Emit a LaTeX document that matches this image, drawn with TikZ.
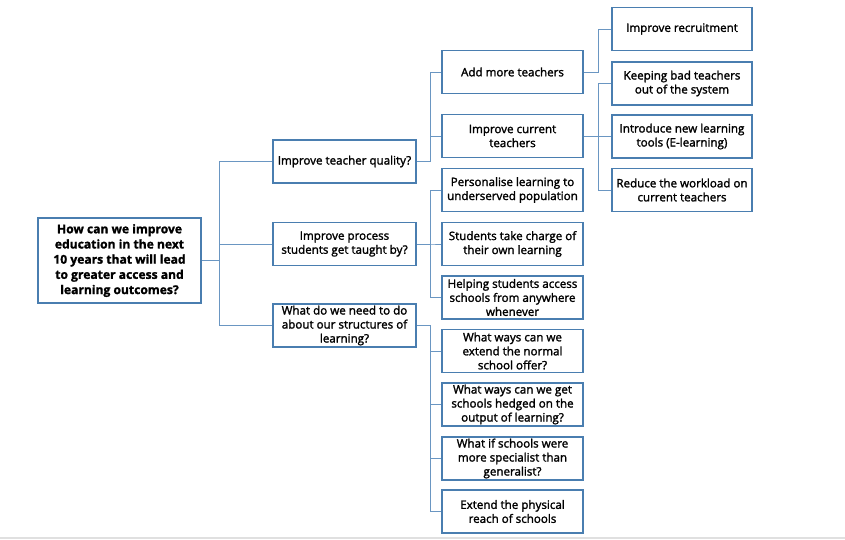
\documentclass[tikz,border=0pt]{standalone}
\usepackage{fontspec}
\setmainfont{Open Sans}
\newfontfamily\sbfont{Open Sans}[FakeBold=1.8]
\newfontfamily\rootfont{Open Sans}[FakeBold=1.5]
\definecolor{boxc}{HTML}{4A7EB0}
\definecolor{linec}{HTML}{6A96C2}
\begin{document}
\begin{tikzpicture}[x=1pt,y=-1pt,
  box/.style={draw=boxc,line width=1.8pt,fill=white,align=center,inner sep=0pt,
    font=\sbfont\fontsize{11.6}{14}\selectfont},
  rootbox/.style={box,font=\rootfont\fontsize{12.1}{15.2}\selectfont\bfseries},
  lone/.style={box,minimum width=143pt,minimum height=43pt},
  ltwo/.style={box,minimum width=141pt,minimum height=43pt},
  lthree/.style={box,minimum width=140pt,minimum height=43pt},
  conn/.style={draw=linec,line width=1pt}]
\fill[white] (0,0) rectangle (845,539);
\useasboundingbox (0,0) rectangle (845,539);
\draw[black!12,line width=1.5pt] (0,538) -- (845,538);

\node[rootbox,minimum width=163pt,minimum height=85pt] (root) at (119.5,260.5)
  {How can we improve\\education in the next\\10 years that will lead\\to greater access and\\learning outcomes?};

\node[lone] (tq) at (344.5,161.5) {Improve teacher quality?};
\node[lone] (pr) at (344.5,244) {Improve process\\students get taught by?};
\node[lone] (st) at (344.5,325.5) {What do we need to do\\about our structures of\\learning?};

\node[ltwo] (add) at (512.5,72) {Add more teachers};
\node[ltwo] (cur) at (512.5,136) {Improve current\\teachers};
\node[ltwo] (pers) at (512.5,190) {Personalise learning to\\underserved population};
\node[ltwo] (stud) at (512.5,244) {Students take charge of\\their own learning};
\node[ltwo] (help) at (512.5,297.5) {Helping students access\\schools from anywhere\\whenever};
\node[ltwo] (ext) at (512.5,351) {What ways can we\\extend the normal\\school offer?};
\node[ltwo] (hedge) at (512.5,404.5) {What ways can we get\\schools hedged on the\\output of learning?};
\node[ltwo] (spec) at (512.5,458.5) {What if schools were\\more specialist than\\generalist?};
\node[ltwo] (phys) at (512.5,511.5) {Extend the physical\\reach of schools};

\node[lthree] (rec) at (682,29) {Improve recruitment};
\node[lthree] (keep) at (682,83.5) {Keeping bad teachers\\out of the system};
\node[lthree] (intro) at (682,136.5) {Introduce new learning\\tools (E-learning)};
\node[lthree] (red) at (682,190) {Reduce the workload on\\current teachers};

\coordinate (j0) at (219,0);
\coordinate (j1) at (430,0);
\coordinate (j2) at (598,0);

\foreach \c in {tq,pr,st}
  \draw[conn] (root.east) -- (root.east -| j0) |- (\c.west);
\foreach \c in {add,cur}
  \draw[conn] (tq.east) -- (tq.east -| j1) |- (\c.west);
\foreach \c in {pers,stud,help}
  \draw[conn] (pr.east) -- (pr.east -| j1) |- (\c.west);
\foreach \c in {ext,hedge,spec,phys}
  \draw[conn] (st.east) -- (st.east -| j1) |- (\c.west);
\draw[conn] (add.east) -- (add.east -| j2) |- (rec.west);
\foreach \c in {keep,intro,red}
  \draw[conn] (cur.east) -- (cur.east -| j2) |- (\c.west);
\end{tikzpicture}
\end{document}
